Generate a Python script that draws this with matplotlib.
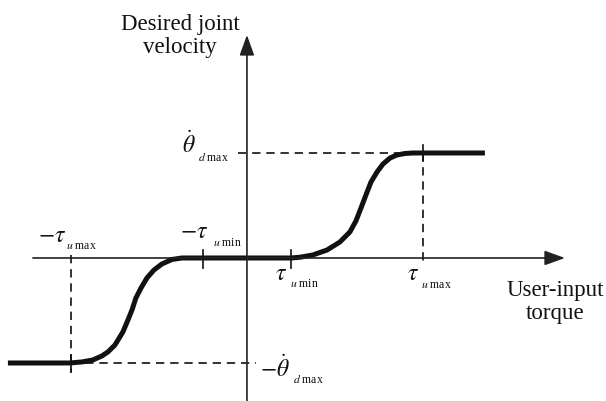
import matplotlib.pyplot as plt

# Normalised units: tau_u_max = 1, theta_d_max = 1
tau_min = 0.25
tau_max = 1.0
theta_max = 1.0

# Curve (left saturation -> dead zone -> right saturation)
left_x = [-1.358, -1.006, -0.9375, -0.875, -0.824, -0.79, -0.75, -0.705, -0.676, -0.653,
          -0.631, -0.602, -0.568, -0.528, -0.483, -0.426, -0.369, -0.25]
left_y = [-1.0, -1.0, -0.99, -0.971, -0.933, -0.895, -0.829, -0.705, -0.59, -0.495,
          -0.381, -0.286, -0.19, -0.114, -0.057, -0.014, 0.0, 0.0]
right_x = [0.25, 0.301, 0.375, 0.455, 0.528, 0.585, 0.619, 0.648, 0.676, 0.705,
           0.739, 0.773, 0.813, 0.852, 0.898, 0.943, 1.0, 1.352]
right_y = [0.0, 0.007, 0.029, 0.076, 0.152, 0.248, 0.352, 0.476, 0.6, 0.724,
           0.819, 0.895, 0.952, 0.981, 0.995, 1.0, 1.0, 1.0]
curve_x = left_x + right_x
curve_y = left_y + right_y

plt.rcParams.update({
    "font.family": "Liberation Serif",
    "mathtext.fontset": "stix",
})

fig = plt.figure(figsize=(6.06, 4.01), dpi=100)
ax = fig.add_axes([0, 0, 1, 1])
ax.set_xlim(-1.403, 2.040)
ax.set_ylim(-1.362, 2.457)
ax.axis("off")

ink = "#111111"
arrow = dict(arrowstyle="-|>,head_length=1.25,head_width=0.45", lw=1.2,
             color="#222222", shrinkA=0, shrinkB=0, mutation_scale=10)

# axes with arrows
ax.annotate("", xy=(1.807, 0), xytext=(-1.216, 0), arrowprops=arrow)
ax.annotate("", xy=(0, 2.124), xytext=(0, -1.362), arrowprops=arrow)

# dashed guide lines
dash = dict(color=ink, lw=1.2, ls=(0, (5, 3.5)))
ax.plot([-0.05, tau_max], [theta_max, theta_max], **dash)
ax.plot([tau_max, tau_max], [theta_max, -0.04], **dash)
ax.plot([-tau_max, 0.05], [-theta_max, -theta_max], **dash)
ax.plot([-tau_max, -tau_max], [0.03, -1.1], **dash)

# tick marks
tick = dict(color=ink, lw=1.2)
for tx in (-tau_min, tau_min):
    ax.plot([tx, tx], [0.076, -0.095], **tick)
ax.plot([tau_max, tau_max], [theta_max + 0.08, theta_max - 0.08], **tick)
ax.plot([-tau_max, -tau_max], [-theta_max + 0.08, -theta_max - 0.08], **tick)

# the characteristic curve
ax.plot(curve_x, curve_y, color=ink, lw=3.6, solid_capstyle="butt", solid_joinstyle="round")

# axis titles
ax.text(-0.38, 2.114, "Desired joint\nvelocity", ha="center", va="center",
        ma="center", fontsize=16.5, linespacing=1.15, color=ink)
ax.text(1.75, -0.42, "User-input\ntorque", ha="center", va="center",
        ma="center", fontsize=16.5, linespacing=1.15, color=ink)


def symbol(x, y, main, sub_x, sub_y, sub):
    ax.text(x, y, main, ha="left", va="baseline", fontsize=17, color=ink)
    ax.text(sub_x, sub_y, sub, ha="left", va="baseline", fontsize=8.5, color=ink)


u_max = r"$u$ max"
u_min = r"$u$ min"
d_max = r"$d$ max"
symbol(-1.1875, 0.152, r"$-\tau$", -1.028, 0.086, u_max)
symbol(-0.381, 0.19, r"$-\tau$", -0.193, 0.114, u_min)
symbol(0.159, -0.21, r"$\tau$", 0.244, -0.276, u_min)
symbol(0.909, -0.21, r"$\tau$", 0.989, -0.286, u_max)
symbol(-0.369, 1.0, r"$\dot{\theta}$", -0.278, 0.924, d_max)
symbol(0.074, -1.133, r"$-\dot{\theta}$", 0.261, -1.19, d_max)

fig.savefig("out.png", dpi=100)
